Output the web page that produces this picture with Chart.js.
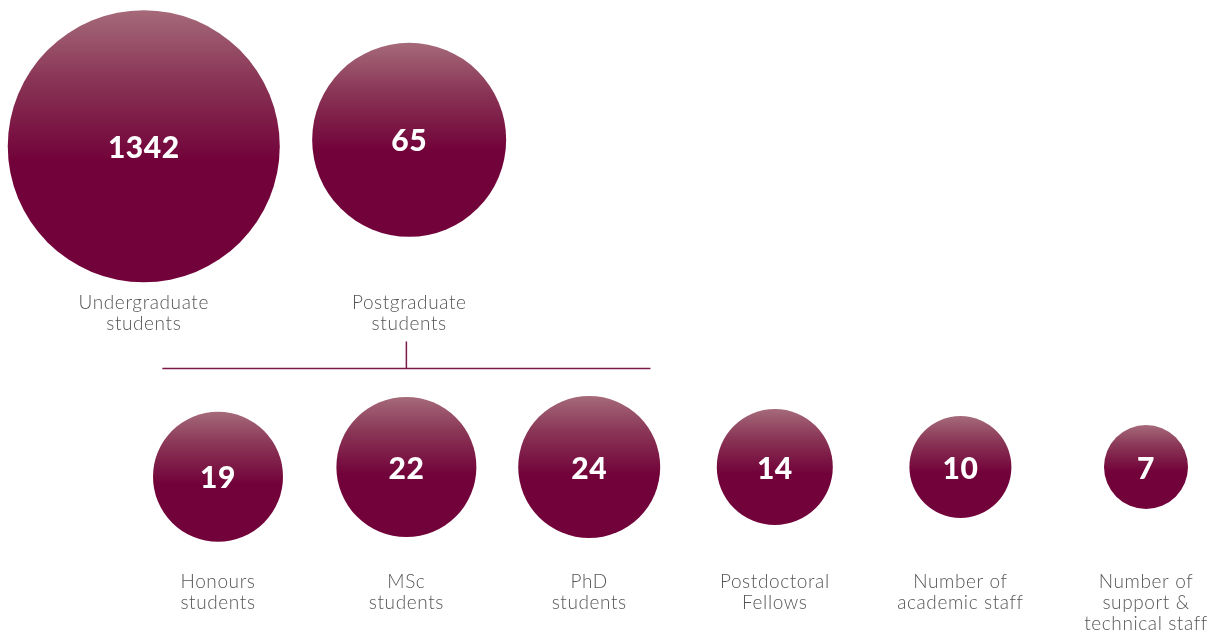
<!DOCTYPE html>
<html>
<head>
<meta charset="utf-8">
<script src="https://cdn.jsdelivr.net/npm/chart.js@4.4.1/dist/chart.umd.min.js"></script>
<style>
  html, body { margin: 0; padding: 0; background: #fff; }
  #wrap { width: 1214px; height: 637px; }
</style>
</head>
<body>
<div id="wrap"><canvas id="myChart" width="1214" height="637"></canvas></div>
<script>
// headcounts shown in each bubble
const categories = [
  ['Undergraduate', 'students'],
  ['Postgraduate', 'students'],
  ['Honours', 'students'],
  ['MSc', 'students'],
  ['PhD', 'students'],
  ['Postdoctoral', 'Fellows'],
  ['Number of', 'academic staff'],
  ['Number of', 'support &', 'technical staff']
];
const counts = [1342, 65, 19, 22, 24, 14, 10, 7];
// grid slot of each bubble (column, row)
const column = [-0.4, 1.03, 0, 1.015, 2, 3, 4, 5];
const row = [0.01, -0.01, 1.03, 1, 1, 1, 1, 1];

// look
const bubbleRadius = [136, 97, 65, 70, 71, 58, 51, 42];
const labelOffset = [160, 115];   // px from row centre to first label line
const dark = '#72033a';
const light = '#a56a7a';

function fillFor(ctx) {
  if (ctx.type !== 'data') return dark;
  const chart = ctx.chart;
  const i = ctx.dataIndex;
  const y = chart.scales.y ? chart.scales.y.getPixelForValue(row[i]) : NaN;
  if (!isFinite(y)) return dark;
  const r = bubbleRadius[i];
  const g = chart.ctx.createLinearGradient(0, y - r, 0, y + r);
  g.addColorStop(0, light);
  g.addColorStop(0.25, '#8a3656');
  g.addColorStop(0.55, dark);
  g.addColorStop(1, dark);
  return g;
}

const textPlugin = {
  id: 'bubbleText',
  afterDatasetsDraw(chart) {
    const c = chart.ctx;
    const meta = chart.getDatasetMeta(0);
    const ys = chart.scales.y;
    const xs = chart.scales.x;
    c.save();
    c.textAlign = 'center';
    c.textBaseline = 'middle';

    // bracket joining the postgraduate breakdown
    c.strokeStyle = '#7a1a48';
    c.lineWidth = 1.5;
    const by = ys.getPixelForValue(0.696);
    c.beginPath();
    c.moveTo(xs.getPixelForValue(-0.3), by);
    c.lineTo(xs.getPixelForValue(2.33), by);
    c.moveTo(xs.getPixelForValue(1.015), by);
    c.lineTo(xs.getPixelForValue(1.015), ys.getPixelForValue(0.613));
    c.stroke();

    meta.data.forEach((pt, i) => {
      c.fillStyle = '#ffffff';
      c.font = '900 30px Lato';
      c.letterSpacing = '0.5px';
      c.fillText(String(counts[i]), pt.x, pt.y + 2);

      const rIdx = Math.round(row[i]);
      const top = ys.getPixelForValue(rIdx) + labelOffset[rIdx];
      c.fillStyle = '#555555';
      c.font = '300 19px Lato';
      c.letterSpacing = '0.6px';
      categories[i].forEach((line, k) => {
        c.fillText(line, pt.x, top + k * 21);
      });
    });
    c.restore();
  }
};

new Chart('myChart', {
  type: 'bubble',
  data: {
    datasets: [{
      data: counts.map((v, i) => ({ x: column[i], y: row[i] })),
      backgroundColor: fillFor,
      borderWidth: 0,
      clip: false,
      radius: (ctx) => bubbleRadius[ctx.dataIndex],
      hoverRadius: 0
    }]
  },
  options: {
    responsive: false,
    animation: false,
    events: [],
    layout: { padding: 0, autoPadding: false },
    plugins: { legend: { display: false }, tooltip: { enabled: false } },
    scales: {
      x: { type: 'linear', display: false, min: -1.1746, max: 5.3664 },
      y: { type: 'linear', display: false, reverse: true, min: -0.4414, max: 1.5247 }
    }
  },
  plugins: [textPlugin]
});
</script>
</body>
</html>
